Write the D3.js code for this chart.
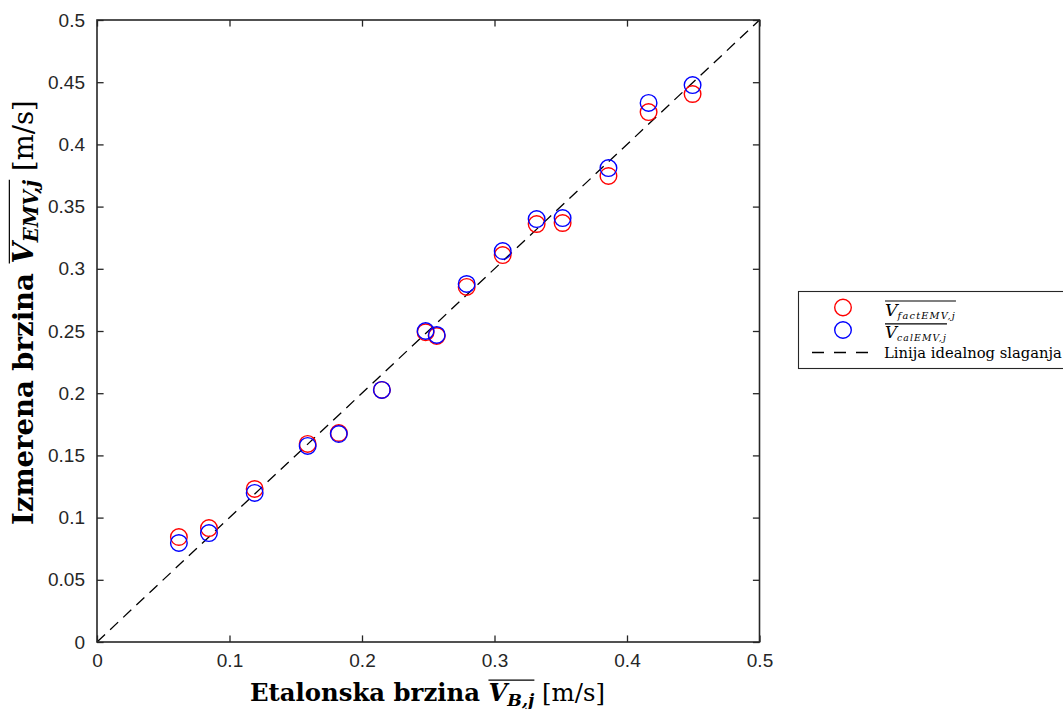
<!DOCTYPE html>
<html>
<head>
<meta charset="utf-8">
<script src="https://cdn.jsdelivr.net/npm/d3@7"></script>
<style>
  html, body { margin: 0; padding: 0; background: #fff; }
  svg { display: block; }
</style>
</head>
<body>
<svg id="chart" width="1063" height="709"></svg>
<script>
// ---------------- data ----------------
const xRef     = [0.0618, 0.0845, 0.119, 0.159, 0.1825, 0.215, 0.248, 0.2564, 0.279, 0.3062, 0.3318, 0.3514, 0.386, 0.4163, 0.4495];
const vFactEMV = [0.0844, 0.0916, 0.123, 0.1592, 0.168, 0.2026, 0.249, 0.246, 0.2854, 0.311, 0.336, 0.3368, 0.3746, 0.426, 0.4405];
const vCalEMV  = [0.0796, 0.0876, 0.1198, 0.1576, 0.1672, 0.2026, 0.25, 0.2468, 0.2878, 0.3143, 0.340, 0.3408, 0.381, 0.4333, 0.4477];
const idealLine = [0, 0.5];
const xTicks = [0, 0.1, 0.2, 0.3, 0.4, 0.5];
const yTicks = [0, 0.05, 0.1, 0.15, 0.2, 0.25, 0.3, 0.35, 0.4, 0.45, 0.5];
const legendLabels = ["factEMV,j", "calEMV,j", "Linija idealnog slaganja"];

// ---------------- layout ----------------
const svg = d3.select("#chart");
const L = 97, R = 759.5, T = 20, B = 642;
const x = d3.scaleLinear().domain([0, 0.5]).range([L, R]);
const y = d3.scaleLinear().domain([0, 0.5]).range([B, T]);
const axisColor = "#262626";
const tickFont = "'Liberation Sans', Arial, Helvetica, sans-serif";
const serif = "'DejaVu Serif', 'Liberation Serif', serif";
const fmt = d => d === 0 ? "0" : d3.format("")(+d.toFixed(2));

// ideal line
svg.append("line")
  .attr("x1", x(idealLine[0])).attr("y1", y(idealLine[0]))
  .attr("x2", x(idealLine[1])).attr("y2", y(idealLine[1]))
  .attr("stroke", "#000").attr("stroke-width", 1.3)
  .attr("stroke-dasharray", "11,7");

// markers
const r = 8.3;
svg.append("g").selectAll("circle").data(xRef.map((d, i) => [d, vFactEMV[i]]))
  .join("circle").attr("cx", d => x(d[0])).attr("cy", d => y(d[1])).attr("r", r)
  .attr("fill", "none").attr("stroke", "#ff0000").attr("stroke-width", 1.4);
svg.append("g").selectAll("circle").data(xRef.map((d, i) => [d, vCalEMV[i]]))
  .join("circle").attr("cx", d => x(d[0])).attr("cy", d => y(d[1])).attr("r", r)
  .attr("fill", "none").attr("stroke", "#0000ff").attr("stroke-width", 1.4);

// axes (ticks inward)
const tl = 6.6;
const axB = d3.axisBottom(x).tickValues(xTicks).tickSizeInner(-tl).tickSizeOuter(0).tickPadding(12).tickFormat(fmt);
const axL = d3.axisLeft(y).tickValues(yTicks).tickSizeInner(-tl).tickSizeOuter(0).tickPadding(12).tickFormat(fmt);
const axT = d3.axisTop(x).tickValues(xTicks).tickSizeInner(-tl).tickSizeOuter(0).tickFormat("");
const axR = d3.axisRight(y).tickValues(yTicks).tickSizeInner(-tl).tickSizeOuter(0).tickFormat("");

function styleAxis(g) {
  g.select(".domain").remove();
  g.selectAll(".tick line").attr("stroke", axisColor).attr("stroke-width", 1.3);
  g.selectAll(".tick text").attr("fill", axisColor).style("font-family", tickFont).style("font-size", "19px");
}
svg.append("g").attr("transform", `translate(0,${B})`).call(axB).call(styleAxis);
svg.append("g").attr("transform", `translate(${L},0)`).call(axL).call(styleAxis);
svg.append("g").attr("transform", `translate(0,${T})`).call(axT).call(styleAxis);
svg.append("g").attr("transform", `translate(${R},0)`).call(axR).call(styleAxis);

// frame
svg.append("rect").attr("x", L).attr("y", T).attr("width", R - L).attr("height", B - T)
  .attr("fill", "none").attr("stroke", axisColor).attr("stroke-width", 1.6);

// ---------------- rich text helper ----------------
// pieces: {t, size, weight, style, dy, over, ls}; optional target width -> scales sizes
function rich(g, pieces, target) {
  function draw(k) {
    g.selectAll("*").remove();
    let cx = 0, overStart = null, overEnd = null, overTop = 0;
    pieces.forEach(p => {
      const s = p.size * k;
      const dy = (p.dy || 0) * k;
      const t = g.append("text").attr("x", cx).attr("y", dy)
        .style("font-family", serif).style("font-size", s + "px")
        .style("font-weight", p.weight || "normal").style("font-style", p.style || "normal")
        .style("letter-spacing", ((p.ls || 0) * k) + "px")
        .attr("fill", "#000").attr("xml:space", "preserve").text(p.t);
      const w = t.node().getComputedTextLength();
      if (p.over) {
        if (overStart === null) overStart = cx;
        overEnd = cx + w;
        overTop = Math.min(overTop, -s * 0.86 + dy);
      }
      cx += w;
    });
    if (overStart !== null) {
      g.append("line").attr("x1", overStart).attr("x2", overEnd)
        .attr("y1", overTop).attr("y2", overTop).attr("stroke", "#000").attr("stroke-width", 1.2);
    }
    return cx;
  }
  let w = draw(1);
  if (target) w = draw(target / w);
  return w;
}

// x label (spans ~250 -> 605)
const xl = svg.append("g").attr("transform", "translate(250,701)");
rich(xl, [
  {t: "Etalonska brzina ", size: 21, weight: "bold"},
  {t: "V", size: 21, weight: "bold", style: "italic", over: true},
  {t: "B,j", size: 15, weight: "bold", style: "italic", dy: 4, over: true},
  {t: " [m/s]", size: 21}
], 355);

// y label (spans y ~525 -> 100)
const yl = svg.append("g").attr("transform", "translate(33,525) rotate(-90)");
rich(yl, [
  {t: "Izmerena brzina ", size: 21, weight: "bold"},
  {t: "V", size: 21, weight: "bold", style: "italic", over: true},
  {t: "EMV,j", size: 15, weight: "bold", style: "italic", dy: 4, over: true},
  {t: " [m/s]", size: 21}
], 425);

// ---------------- legend ----------------
const lg = svg.append("g");
lg.append("rect").attr("x", 798.5).attr("y", 291.5).attr("width", 300).attr("height", 77)
  .attr("fill", "#fff").attr("stroke", axisColor).attr("stroke-width", 1.1);
lg.append("circle").attr("cx", 843).attr("cy", 307.5).attr("r", r)
  .attr("fill", "none").attr("stroke", "#ff0000").attr("stroke-width", 1.4);
lg.append("circle").attr("cx", 843).attr("cy", 330).attr("r", r)
  .attr("fill", "none").attr("stroke", "#0000ff").attr("stroke-width", 1.4);
lg.append("line").attr("x1", 812).attr("x2", 876).attr("y1", 352.5).attr("y2", 352.5)
  .attr("stroke", "#000").attr("stroke-width", 1.3).attr("stroke-dasharray", "12,10");

const l1 = lg.append("g").attr("transform", "translate(885,316)");
rich(l1, [
  {t: "V", size: 17, style: "italic", over: true},
  {t: legendLabels[0], size: 9.5, style: "italic", dy: 3, ls: 1.2, over: true}
], 71);
const l2 = lg.append("g").attr("transform", "translate(885,338)");
rich(l2, [
  {t: "V", size: 17, style: "italic", over: true},
  {t: legendLabels[1], size: 9.5, style: "italic", dy: 3, ls: 1.2, over: true}
], 62);
const l3 = lg.append("g").attr("transform", "translate(884,358)");
rich(l3, [{t: legendLabels[2], size: 15}], 178);
</script>
</body>
</html>
